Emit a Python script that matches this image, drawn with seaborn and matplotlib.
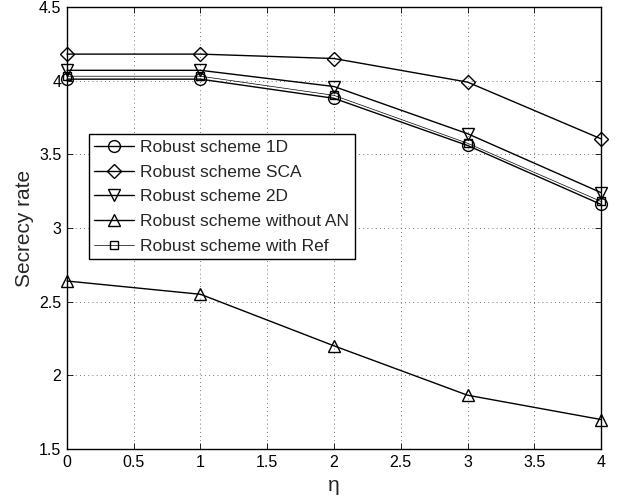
import seaborn as sns
import matplotlib.pyplot as plt

# eta values on the x axis
eta = [0, 1, 2, 3, 4]

# secrecy rate
rate_1d = [4.01, 4.01, 3.88, 3.56, 3.16]
rate_sca = [4.18, 4.18, 4.15, 3.99, 3.605]
rate_2d = [4.07, 4.07, 3.96, 3.64, 3.24]
rate_no_an = [2.64, 2.55, 2.20, 1.865, 1.70]
rate_ref = [4.03, 4.03, 3.90, 3.575, 3.18]

labels = ["Robust scheme 1D", "Robust scheme SCA", "Robust scheme 2D",
          "Robust scheme without AN", "Robust scheme with Ref"]

sns.set_style("ticks")
plt.rcParams['font.family'] = ['Liberation Sans', 'DejaVu Sans']

fig = plt.figure(figsize=(6.18, 4.97), dpi=100)
ax = fig.add_axes([0.1084, 0.0966, 0.8641, 0.8894])

series = [
    (rate_1d, "o", 8.5, 1.0),
    (rate_sca, "D", 7.5, 1.0),
    (rate_2d, "v", 9.0, 1.0),
    (rate_no_an, "^", 9.0, 1.0),
    (rate_ref, "s", 5.5, 0.5),
]
for (vals, mk, ms, lw), lab in zip(series, labels):
    sns.lineplot(x=eta, y=vals, ax=ax, color="black", marker=mk,
                 markersize=ms, markerfacecolor="none", markeredgecolor="black",
                 markeredgewidth=1.0, linewidth=lw, label=lab, clip_on=False,
                 zorder=3)

ax.set_xlim(0, 4)
ax.set_ylim(1.5, 4.5)
ax.set_xticks([0, 0.5, 1, 1.5, 2, 2.5, 3, 3.5, 4])
ax.set_xticklabels(["0", "0.5", "1", "1.5", "2", "2.5", "3", "3.5", "4"])
ax.set_yticks([1.5, 2, 2.5, 3, 3.5, 4, 4.5])
ax.set_yticklabels(["1.5", "2", "2.5", "3", "3.5", "4", "4.5"])
ax.grid(True, linestyle=(0, (1, 4)), color="black", linewidth=0.6, alpha=0.7)
ax.tick_params(direction="in", length=4, width=0.6, top=True, right=True,
               labelsize=11.5, colors="black", pad=4)
for sp in ax.spines.values():
    sp.set_visible(True)
    sp.set_color("black")
    sp.set_linewidth(1.0)

ax.set_xlabel("η", fontsize=15, labelpad=5)
ax.set_ylabel("Secrecy rate", fontsize=15, labelpad=4)

leg = ax.legend(loc="upper left", bbox_to_anchor=(0.041, 0.712),
                borderaxespad=0, fancybox=False, framealpha=1,
                edgecolor="black", handlelength=2.3, handletextpad=0.35,
                labelspacing=0.55, borderpad=0.32, fontsize=12.5)
leg.get_frame().set_linewidth(1.0)

fig.savefig("out.png", dpi=100)
